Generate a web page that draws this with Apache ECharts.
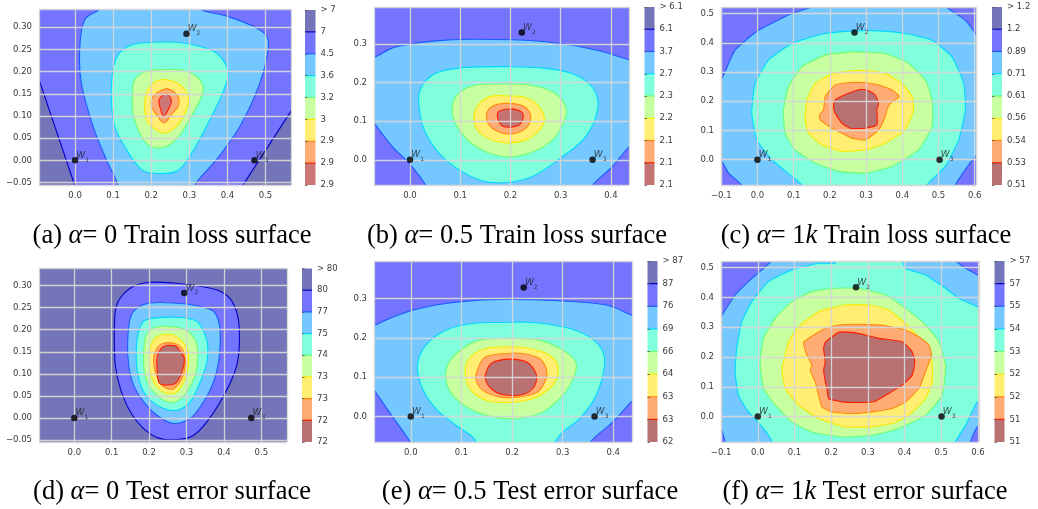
<!DOCTYPE html>
<html><head><meta charset="utf-8">
<script src="https://cdn.jsdelivr.net/npm/echarts@6/dist/echarts.min.js"></script>
<style>html,body{margin:0;padding:0;background:#fff}#c{width:1038px;height:509px}</style>
</head><body><div id="c"></div>
<script>
// ---------------- DATA ----------------
// colour-bar tick labels, bottom -> top
const cbarA = ['2.9','2.9','2.9','3','3.2','3.6','4.5','7','> 7'];
const cbarB = ['2.1','2.1','2.1','2.2','2.3','2.7','3.7','6.1','> 6.1'];
const cbarC = ['0.51','0.53','0.54','0.56','0.61','0.71','0.89','1.2','> 1.2'];
const cbarD = ['72','72','73','73','74','75','77','80','> 80'];
const cbarE = ['62','63','63','64','66','69','76','87','> 87'];
const cbarF = ['51','51','52','52','53','54','55','57','> 57'];

// marked points W1, W2, W3
const pointsA = [[0,0],[0.2925,0.285],[0.471,0]];
const pointsB = [[0,0],[0.2226,0.329],[0.3635,0]];
const pointsC = [[0,0],[0.268,0.435],[0.503,0]];
const pointsD = [[0,0],[0.294,0.2833],[0.4733,0]];
const pointsE = [[0,0],[0.223,0.3288],[0.363,0]];
const pointsF = [[0,0],[0.2678,0.4339],[0.5009,0]];

// contour regions: [band index (0 = top of colour bar), outline vertices in data units, optional smoothing]
const regionsA = [
 [0, [[-0.1115,0.225],[-0.0946,0.182],[-0.001,-0.0556],[0.0086,-0.08],[-0.2,-0.08],[-0.2,0.225]], 0],
 [0, [[0.4225,-0.08],[0.441,-0.0556],[0.564,0.107],[0.6,0.1546],[0.7,0.1546],[0.7,-0.08]], 0],
 [2, [[0.091,0.37],[0.0648,0.341],[0.0254,0.317],[0.0123,0.25],[0.0166,0.174],[0.0473,0.0767],[0.0823,0.0015],[0.113,-0.0556],[0.122,-0.09],[0.306,-0.09],[0.314,-0.0556],[0.371,0.0015],[0.433,0.0767],[0.485,0.174],[0.507,0.25],[0.503,0.28],[0.468,0.302],[0.398,0.325],[0.327,0.341],[0.292,0.37]]],
 [3, [[0.209,0.266],[0.152,0.261],[0.117,0.242],[0.0998,0.2045],[0.0954,0.137],[0.104,0.0767],[0.13,0.0316],[0.17,-0.0173],[0.2005,-0.0286],[0.266,-0.0248],[0.301,0.009],[0.345,0.0767],[0.38,0.137],[0.402,0.189],[0.398,0.212],[0.371,0.242],[0.3275,0.257],[0.266,0.266]]],
 [4, [[0.231,0.2045],[0.187,0.2008],[0.157,0.182],[0.1506,0.144],[0.152,0.1068],[0.1655,0.0692],[0.187,0.039],[0.2137,0.0278],[0.2487,0.0353],[0.279,0.0617],[0.31,0.1068],[0.332,0.144],[0.336,0.167],[0.319,0.189],[0.284,0.203]]],
 [5, [[0.231,0.182],[0.205,0.174],[0.187,0.152],[0.183,0.122],[0.187,0.0917],[0.2005,0.0767],[0.231,0.0617],[0.266,0.0767],[0.2925,0.114],[0.297,0.144],[0.275,0.171],[0.249,0.18]]],
 [6, [[0.2356,0.161],[0.205,0.144],[0.2005,0.122],[0.2137,0.103],[0.233,0.0842],[0.253,0.103],[0.2706,0.122],[0.2706,0.144],[0.253,0.158]]],
 [7, [[0.233,0.148],[0.2207,0.137],[0.2224,0.122],[0.233,0.0992],[0.247,0.118],[0.253,0.133],[0.247,0.146]]]
];
const regionsB = [
 [2, [[-0.1017,0.258],[-0.0718,0.265],[-0.0286,0.292],[0.0711,0.3095],[0.171,0.311],[0.2704,0.305],[0.37,0.284],[0.4365,0.258],[0.47,0.241],[0.47,0.069],[0.4365,0.0344],[0.403,-0.0172],[0.3635,-0.0653],[0.337,-0.12],[0.051,-0.12],[0.0312,-0.0653],[-0.002,-0.0086],[-0.0352,0.0344],[-0.0718,0.0963],[-0.1017,0.155]]],
 [3, [[0.1907,0.2408],[0.1043,0.238],[0.0512,0.2236],[0.0213,0.1849],[0.0179,0.1376],[0.0312,0.0688],[0.0711,0.0],[0.1375,-0.0516],[0.1907,-0.0585],[0.2439,-0.043],[0.3037,0.0086],[0.35,0.0602],[0.3734,0.129],[0.3668,0.1806],[0.33,0.2193],[0.2704,0.2365]]],
 [4, [[0.184,0.196],[0.124,0.191],[0.091,0.163],[0.0844,0.12],[0.0977,0.0774],[0.131,0.0344],[0.184,0.0086],[0.237,0.0172],[0.2837,0.0516],[0.31,0.1118],[0.307,0.146],[0.2837,0.176],[0.237,0.1935]]],
 [5, [[0.1973,0.165],[0.1575,0.163],[0.134,0.1376],[0.1276,0.0989],[0.144,0.0645],[0.184,0.0447],[0.2306,0.0516],[0.2605,0.0817],[0.267,0.1118],[0.2505,0.146],[0.224,0.163]]],
 [6, [[0.1907,0.146],[0.161,0.136],[0.152,0.1118],[0.164,0.0817],[0.197,0.067],[0.2306,0.0817],[0.2405,0.1118],[0.227,0.1376]]],
 [7, [[0.174,0.1204],[0.184,0.0877],[0.2173,0.0903],[0.2253,0.116],[0.214,0.129],[0.1907,0.1307]]]
];
const regionsC = [
 [2, [[-0.126,0.25],[-0.1005,0.2727],[-0.0618,0.375],[0.0028,0.443],[0.095,0.5],[0.15,0.5227],[0.187,0.545],[0.4636,0.545],[0.519,0.5227],[0.574,0.477],[0.602,0.432],[0.63,0.375],[0.63,0.034],[0.602,0.0114],[0.574,-0.034],[0.5465,-0.0864],[0.528,-0.136],[-0.025,-0.136],[-0.0433,-0.0864],[-0.08,-0.0455],[-0.1005,0.0],[-0.126,0.034]]],
 [3, [[0.27,0.441],[0.187,0.432],[0.095,0.398],[0.0304,0.341],[-0.0065,0.261],[-0.0157,0.159],[-0.0018,0.068],[0.0396,0.0],[0.095,-0.0568],[0.1226,-0.0864],[0.132,-0.136],[0.4636,-0.136],[0.468,-0.0864],[0.519,-0.0227],[0.5558,0.068],[0.574,0.1705],[0.5696,0.261],[0.537,0.352],[0.482,0.409],[0.408,0.432],[0.3346,0.441]]],
 [4, [[0.261,0.369],[0.187,0.358],[0.1226,0.318],[0.0857,0.25],[0.0719,0.17],[0.0765,0.0909],[0.104,0.034],[0.1594,-0.0114],[0.224,-0.0398],[0.2977,-0.0455],[0.371,-0.0227],[0.445,0.034],[0.482,0.1136],[0.482,0.2045],[0.4636,0.2727],[0.4175,0.3295],[0.353,0.3636]]],
 [5, [[0.261,0.3045],[0.2055,0.293],[0.1594,0.261],[0.1364,0.2045],[0.1318,0.136],[0.141,0.0909],[0.178,0.0511],[0.2332,0.0284],[0.2977,0.034],[0.353,0.0568],[0.408,0.1023],[0.4313,0.1705],[0.4267,0.216],[0.399,0.261],[0.353,0.2955],[0.307,0.3045]]],
 [6, [[0.2516,0.2636],[0.2147,0.2557],[0.187,0.216],[0.1825,0.1705],[0.1714,0.1534],[0.1733,0.136],[0.2055,0.108],[0.2332,0.0909],[0.261,0.0739],[0.2977,0.068],[0.3346,0.1023],[0.353,0.1477],[0.3576,0.1705],[0.3668,0.193],[0.392,0.216],[0.3714,0.2386],[0.3346,0.2557],[0.2977,0.2636]]],
 [7, [[0.2885,0.241],[0.2516,0.2273],[0.2147,0.2045],[0.21,0.1818],[0.2147,0.159],[0.2332,0.125],[0.2562,0.108],[0.2977,0.108],[0.33,0.1193],[0.33,0.1705],[0.3346,0.193],[0.3253,0.2216],[0.307,0.236]]]
];
const regionsD = [
 [1, [[0.2032,0.3076],[0.1586,0.2985],[0.123,0.2719],[0.1096,0.2415],[0.107,0.1808],[0.1096,0.12],[0.123,0.0668],[0.1497,0.0137],[0.1854,-0.0243],[0.23,-0.0471],[0.2834,-0.0486],[0.319,-0.0395],[0.3547,-0.0091],[0.3904,0.0365],[0.426,0.0972],[0.4394,0.1428],[0.4394,0.2187],[0.4216,0.2643],[0.3904,0.2871],[0.3369,0.2985],[0.2656,0.306]]],
 [2, [[0.2032,0.2605],[0.1676,0.2491],[0.1497,0.2263],[0.1426,0.1732],[0.1453,0.12],[0.1586,0.0744],[0.1854,0.0365],[0.221,0.0061],[0.2656,-0.0129],[0.31,-0.0015],[0.3458,0.0365],[0.3725,0.082],[0.3859,0.1276],[0.3904,0.1884],[0.3859,0.2187],[0.3725,0.2415],[0.3369,0.2529],[0.2656,0.2605]]],
 [3, [[0.2121,0.2263],[0.1854,0.2187],[0.172,0.196],[0.1658,0.158],[0.1676,0.1124],[0.1809,0.0668],[0.2032,0.0403],[0.2389,0.0213],[0.2745,0.0175],[0.31,0.0365],[0.3369,0.082],[0.3547,0.1276],[0.3565,0.1656],[0.3458,0.196],[0.328,0.2187],[0.2834,0.2278]]],
 [4, [[0.23,0.2073],[0.2032,0.1997],[0.1898,0.1808],[0.1854,0.1428],[0.1872,0.1048],[0.1988,0.0744],[0.221,0.0516],[0.2478,0.0365],[0.2745,0.038],[0.3012,0.0592],[0.3235,0.0972],[0.3298,0.1352],[0.328,0.1656],[0.3146,0.1884],[0.2879,0.2035]]],
 [5, [[0.2389,0.1884],[0.2166,0.1808],[0.2032,0.158],[0.2005,0.1276],[0.205,0.0972],[0.221,0.0706],[0.2478,0.0554],[0.2745,0.0592],[0.2968,0.0896],[0.3057,0.1276],[0.3012,0.158],[0.2834,0.177],[0.2611,0.1884]]],
 [6, [[0.2389,0.1694],[0.221,0.158],[0.2121,0.1352],[0.2166,0.1048],[0.23,0.0782],[0.2478,0.0668],[0.2656,0.0668],[0.2879,0.0896],[0.2968,0.12],[0.2923,0.1504],[0.2745,0.1671]]],
 [7, [[0.2389,0.1618],[0.2228,0.1428],[0.221,0.12],[0.2282,0.0782],[0.27,0.0782],[0.2879,0.1048],[0.2941,0.1352],[0.2834,0.1504],[0.27,0.1633]]]
];
const regionsE = [
 [2, [[-0.1023,0.2413],[-0.0726,0.2328],[-0.0495,0.2455],[0.0033,0.271],[0.0693,0.288],[0.1353,0.2965],[0.2013,0.2982],[0.3003,0.294],[0.3861,0.2838],[0.4356,0.2583],[0.4653,0.2413],[0.4653,0.0714],[0.4356,0.0374],[0.3993,-0.0136],[0.3564,-0.0629],[0.3333,-0.1155],[0.0231,-0.1155],[-0.0033,-0.0603],[-0.0429,0.0119],[-0.0726,0.0671],[-0.1023,0.1138]]],
 [3, [[0.1815,0.2396],[0.1221,0.237],[0.0693,0.22],[0.0297,0.1818],[0.0132,0.1308],[0.0231,0.0714],[0.0495,0.0204],[0.0891,-0.0221],[0.1221,-0.0518],[0.1419,-0.0816],[0.2673,-0.0816],[0.3003,-0.0391],[0.3333,-0.0051],[0.3663,0.0544],[0.3828,0.1308],[0.3762,0.1733],[0.3465,0.2073],[0.3003,0.2285],[0.2409,0.2396]]],
 [4, [[0.1881,0.1988],[0.1353,0.1946],[0.1023,0.1733],[0.0759,0.1393],[0.0693,0.0969],[0.0825,0.0544],[0.1155,0.0204],[0.1617,-0.0008],[0.2145,-0.0051],[0.2607,0.0119],[0.3003,0.0544],[0.3234,0.1054],[0.3254,0.1393],[0.3003,0.1691],[0.2541,0.1946]]],
 [5, [[0.1881,0.1776],[0.1485,0.1733],[0.1221,0.1563],[0.1089,0.1308],[0.1089,0.0969],[0.1188,0.0671],[0.1485,0.0416],[0.1947,0.0357],[0.2409,0.0459],[0.2739,0.0714],[0.2904,0.1054],[0.2871,0.1393],[0.2673,0.1606],[0.2277,0.175]]],
 [6, [[0.1881,0.1606],[0.1485,0.1521],[0.1353,0.1308],[0.1287,0.0969],[0.1419,0.0671],[0.1749,0.0501],[0.2145,0.0501],[0.2508,0.0629],[0.2673,0.0969],[0.2673,0.1223],[0.2541,0.1478],[0.2211,0.1606]]],
 [7, [[0.1947,0.1461],[0.1617,0.1376],[0.1518,0.1223],[0.1472,0.0969],[0.1584,0.0714],[0.1815,0.0561],[0.2211,0.0561],[0.2409,0.0714],[0.2488,0.0969],[0.2442,0.1181],[0.2277,0.1393]]]
];
const regionsF = [
 [2, [[-0.12,0.30],[-0.1002,0.3352],[-0.0619,0.408],[-0.0255,0.4529],[0.0109,0.4922],[0.0383,0.5224],[0.0565,0.5538],[0.521,0.5538],[0.5392,0.5224],[0.5665,0.4978],[0.5984,0.4753],[0.63,0.453],[0.63,-0.018],[0.5984,-0.0348],[0.58,-0.083],[0.5756,-0.13],[-0.0801,-0.13],[-0.0893,-0.083],[-0.1002,-0.0404],[-0.12,-0.02]]],
 [3, [[0.2113,0.5146],[0.2204,0.5426],[0.3843,0.5426],[0.4026,0.4978],[0.4572,0.4753],[0.5118,0.4305],[0.5483,0.3969],[0.5984,0.3688],[0.63,0.352],[0.63,0.0605],[0.5984,0.0493],[0.5665,-0.0291],[0.5392,-0.083],[0.53,-0.13],[0.029,-0.13],[0.0383,-0.083],[0.0155,-0.0404],[-0.0255,0.0157],[-0.0528,0.0717],[-0.0619,0.1502],[-0.0574,0.2287],[-0.0437,0.3184],[-0.0164,0.3857],[0.0291,0.4529],[0.0929,0.4922],[0.1658,0.5146]]],
 [4, [[0.2113,0.4305],[0.1475,0.4193],[0.0929,0.3857],[0.0474,0.3296],[0.0155,0.2623],[0.0064,0.1839],[0.0155,0.0942],[0.0474,0.0381],[0.0929,-0.0179],[0.1475,-0.0516],[0.2295,-0.0684],[0.3115,-0.0628],[0.3843,-0.0404],[0.4572,0.0045],[0.5027,0.0717],[0.5118,0.1726],[0.4936,0.2511],[0.4572,0.3072],[0.4026,0.3632],[0.3479,0.4081],[0.275,0.4305]]],
 [5, [[0.2386,0.3744],[0.1658,0.352],[0.1111,0.3016],[0.0838,0.2511],[0.0701,0.1839],[0.0656,0.1614],[0.0747,0.0942],[0.1111,0.0381],[0.1658,-0.0067],[0.2386,-0.0348],[0.3115,-0.0348],[0.3661,-0.0235],[0.4117,0.0045],[0.4572,0.0605],[0.4754,0.1166],[0.4754,0.1726],[0.4709,0.2063],[0.4481,0.2511],[0.4117,0.3016],[0.357,0.3576],[0.3024,0.3744]]],
 [6, [[0.2204,0.3072],[0.184,0.296],[0.1248,0.2489],[0.1339,0.2063],[0.1475,0.1726],[0.143,0.1558],[0.1566,0.1166],[0.1658,0.0717],[0.1749,0.0325],[0.2022,0.0157],[0.2568,0.0101],[0.3115,0.0157],[0.3661,0.0269],[0.4026,0.0493],[0.439,0.0942],[0.4572,0.1502],[0.4736,0.2063],[0.4663,0.2399],[0.439,0.2679],[0.4026,0.2904],[0.3479,0.3049],[0.2842,0.3094]]],
 [7, [[0.2204,0.2825],[0.184,0.2489],[0.1794,0.2287],[0.184,0.1839],[0.1794,0.1558],[0.184,0.1166],[0.1885,0.0942],[0.1931,0.0605],[0.2295,0.0493],[0.275,0.0471],[0.3206,0.0516],[0.357,0.0774],[0.3934,0.1054],[0.4208,0.139],[0.4281,0.1839],[0.4208,0.2175],[0.3934,0.2511],[0.3297,0.2623],[0.2933,0.2735],[0.2568,0.2825]]]
];

// captions
const capLetters = ['(a)','(b)','(c)','(d)','(e)','(f)'];
const capAlpha = ['0','0.5','1k','0','0.5','1k'];
const capText = ['Train loss surface','Train loss surface','Train loss surface','Test error surface','Test error surface','Test error surface'];

// ---------------- STYLE / LAYOUT ----------------
const BAND_FILL = ['#7474b8','#7474ff','#74c8ff','#80ffdc','#c8ffa0','#ffee72','#ffac74','#c47272'];
const BOUND_LINE = [null,'#0000c8','#1c5cff','#00d8ff','#6cff74','#f6ec00','#ff8a10','#ff1e00'];
const GRID_LINE = 'rgba(214,214,214,0.95)';
const TXT = '#3a3a3a';
const FONT = 'DejaVu Sans';

const panels = [
 {reg:regionsA, pts:pointsA, cb:cbarA, red:'#cc7676', bg:1, smooth:0.35,
  grid:{left:39,top:9,width:252,height:176}, cbg:{left:305,top:10,width:10.5,height:175},
  x:[-0.0946,0.567], y:[-0.0555,0.341], xs:0.1, ys:0.05, xd:1, yd:2},
 {reg:regionsB, pts:pointsB, cb:cbarB, red:'#c47272', bg:1, smooth:0.35,
  grid:{left:374,top:7,width:255,height:178}, cbg:{left:644.5,top:7,width:10,height:178},
  x:[-0.0717,0.436], y:[-0.065,0.395], xs:0.1, ys:0.1, xd:1, yd:1},
 {reg:regionsC, pts:pointsC, cb:cbarC, red:'#b87070', bg:1, smooth:0.15,
  grid:{left:721,top:7,width:255,height:178}, cbg:{left:992,top:7,width:10,height:178},
  x:[-0.1006,0.6035], y:[-0.0864,0.5226], xs:0.1, ys:0.1, xd:1, yd:1},
 {reg:regionsD, pts:pointsD, cb:cbarD, red:'#b87272', bg:0, smooth:0.3,
  grid:{left:39,top:268,width:248,height:174}, cbg:{left:302,top:268.5,width:10,height:173.5},
  x:[-0.0944,0.5687], y:[-0.0547,0.340], xs:0.1, ys:0.05, xd:1, yd:2},
 {reg:regionsE, pts:pointsE, cb:cbarE, red:'#b87272', bg:1, smooth:0.35,
  grid:{left:374,top:261,width:258,height:181}, cbg:{left:647.5,top:261,width:10,height:181},
  x:[-0.0727,0.437], y:[-0.0648,0.396], xs:0.1, ys:0.1, xd:1, yd:1},
 {reg:regionsF, pts:pointsF, cb:cbarF, red:'#b87070', bg:1, smooth:0.15,
  grid:{left:721,top:261,width:258,height:181}, cbg:{left:994.5,top:261,width:10,height:181},
  x:[-0.1003,0.603], y:[-0.0854,0.522], xs:0.1, ys:0.1, xd:1, yd:1}
];
const capPos = [[172,236],[517,236],[866,236],[172,492],[530,492],[865,492]];

function tickFmt(step, dec) {
  return function (v) {
    const k = v / step;
    if (Math.abs(k - Math.round(k)) > 1e-6) return '';
    let r = Math.round(k) * step;
    if (Math.abs(r) < 1e-9) r = 0;
    return r.toFixed(dec).replace('-', '\u2212');
  };
}

const grids = [], xAxes = [], yAxes = [], series = [];
panels.forEach((P, pi) => {
  const fills = BAND_FILL.slice(); fills[7] = P.red;
  const gi = 2 * pi, ci = 2 * pi + 1;
  grids.push(Object.assign({show:true, backgroundColor: fills[P.bg], borderWidth:0}, P.grid));
  grids.push(Object.assign({show:false}, P.cbg));
  const lab = {fontSize:8.5, color:TXT, fontFamily:FONT};
  xAxes.push({type:'value', gridIndex:gi, min:P.x[0], max:P.x[1], minInterval:P.xs, maxInterval:P.xs, splitNumber:6, z:5,
    axisLine:{show:false}, axisTick:{show:false},
    splitLine:{show:true, lineStyle:{color:GRID_LINE, width:1.3}},
    axisLabel:Object.assign({margin:6, formatter:tickFmt(P.xs, P.xd)}, lab)});
  yAxes.push({type:'value', gridIndex:gi, min:P.y[0], max:P.y[1], minInterval:P.ys, maxInterval:P.ys, splitNumber:7, z:5,
    axisLine:{show:false}, axisTick:{show:false},
    splitLine:{show:true, lineStyle:{color:GRID_LINE, width:1.3}},
    axisLabel:Object.assign({margin:7, formatter:tickFmt(P.ys, P.yd)}, lab)});
  xAxes.push({type:'value', gridIndex:ci, min:0, max:1, show:false});
  const cbl = P.cb;
  yAxes.push({type:'value', gridIndex:ci, min:0, max:8, interval:1, position:'right', z:5,
    axisLine:{show:false}, splitLine:{show:false},
    axisTick:{show:true, length:2.5, lineStyle:{color:'#555', width:0.8}},
    axisLabel:Object.assign({margin:5, formatter:v => cbl[Math.round(v)]}, lab)});

  // contour regions
  P.reg.forEach((r, ri) => {
    const pts = r[1], band = r[0];
    const sm = (r[2] !== undefined) ? r[2] : P.smooth;
    const fill = fills[band], stroke = BOUND_LINE[Math.max(1, band)];
    series.push({type:'custom', xAxisIndex:gi, yAxisIndex:gi, clip:true, silent:true, z:2,
      data: pts, encode:{x:0, y:1},
      renderItem: function (params, api) {
        if (params.dataIndex !== 0) return null;
        return {type:'polygon', z2: ri + 1,
          shape:{points: pts.map(p => api.coord(p)), smooth: sm},
          style:{fill: fill, stroke: stroke, lineWidth: 1.1}};
      }});
  });

  // colour bar
  series.push({type:'custom', xAxisIndex:ci, yAxisIndex:ci, silent:true, z:2,
    data: cbl.slice(0, 8).map((_, i) => [0, i, 1, i + 1]), encode:{x:[0,2], y:[1,3]},
    renderItem: function (params, api) {
      const i = api.value(1);
      const p0 = api.coord([api.value(0), api.value(1)]);
      const p1 = api.coord([api.value(2), api.value(3)]);
      const k = 7 - i;
      const ch = [{type:'rect', z2:1, shape:{x:p0[0], y:p1[1], width:p1[0]-p0[0], height:p0[1]-p1[1]}, style:{fill: fills[k]}}];
      if (k >= 1) ch.push({type:'line', z2:5, shape:{x1:p0[0], y1:p1[1], x2:p1[0], y2:p1[1]}, style:{stroke: BOUND_LINE[k], lineWidth:1.2}});
      return {type:'group', children: ch};
    }});

  // points W1..W3
  series.push({type:'scatter', xAxisIndex:gi, yAxisIndex:gi, z:10, silent:true,
    data: P.pts, symbolSize:6.5, itemStyle:{color:'#000'},
    label:{show:true, position:[4.5,-6], formatter: p => '{w|W}{s|' + (p.dataIndex + 1) + '}',
      rich:{w:{fontSize:9, fontStyle:'italic', fontFamily:FONT, color:'#222', lineHeight:10, verticalAlign:'top'},
            s:{fontSize:6, fontFamily:FONT, color:'#222', lineHeight:12, verticalAlign:'bottom'}}}});
});

const graphics = capLetters.map((l, i) => {
  const a = capAlpha[i];
  const val = a.endsWith('k') ? '{n|= ' + a.slice(0, -1) + '}{i|k}' : '{n|= ' + a + '}';
  return {type:'text', x: capPos[i][0], y: capPos[i][1], silent:true,
    style:{text: '{n|' + l + ' }{i|α}' + val + '{n| ' + capText[i] + '}',
      align:'center', verticalAlign:'middle',
      rich:{n:{fontFamily:'Liberation Serif', fontSize:26.5, fill:'#000', color:'#000'},
            i:{fontFamily:'Liberation Serif', fontStyle:'italic', fontSize:26.5, fill:'#000', color:'#000'}}}};
});

const chart = echarts.init(document.getElementById('c'), null, {renderer:'canvas'});
chart.setOption({animation:false, backgroundColor:'#fff', grid:grids, xAxis:xAxes, yAxis:yAxes, series:series, graphic:graphics});
</script></body></html>
